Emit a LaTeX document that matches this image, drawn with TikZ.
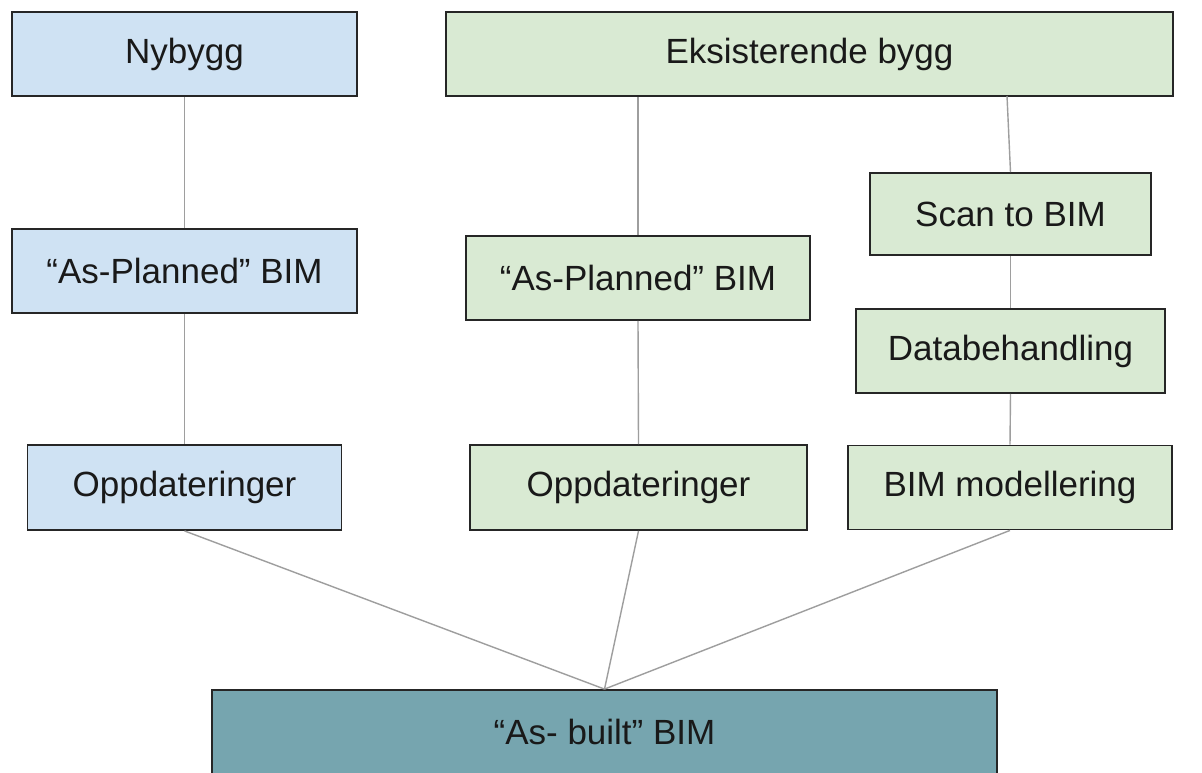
\documentclass[tikz,border=0pt]{standalone}
\usepackage{fontspec}
\setmainfont{Liberation Sans}
\definecolor{bluefill}{HTML}{CFE2F3}
\definecolor{greenfill}{HTML}{D9EAD3}
\definecolor{tealfill}{HTML}{76A5AF}
\definecolor{boxline}{HTML}{262626}
\definecolor{linkline}{HTML}{9E9E9E}
\tikzset{
  box/.style={draw=boxline, line width=1.8pt, inner sep=0pt, font=\fontsize{35}{42}\selectfont, text=black!90},
  bluebox/.style={box, fill=bluefill},
  greenbox/.style={box, fill=greenfill},
  tealbox/.style={box, fill=tealfill},
  link/.style={draw=linkline, line width=1.4pt}
}
\begin{document}
\begin{tikzpicture}[x=1pt,y=-1pt]
\useasboundingbox (0,0) rectangle (1202,772);
\clip (0,0) rectangle (1202,772);
\fill[white] (0,0) rectangle (1202,772);
% nodes
\node[bluebox, minimum width=345pt, minimum height=84pt] (ny) at (184.5,54) {Nybygg};
\node[greenbox, minimum width=727pt, minimum height=84pt] (ek) at (809.5,54) {Eksisterende bygg};
\node[bluebox, minimum width=345pt, minimum height=84pt] (ap1) at (184.5,271) {``As-Planned'' BIM};
\node[greenbox, minimum width=344pt, minimum height=84pt] (ap2) at (638,278) {``As-Planned'' BIM};
\node[greenbox, minimum width=281pt, minimum height=82pt] (scan) at (1010.5,214) {Scan to BIM};
\node[greenbox, minimum width=309pt, minimum height=84pt] (data) at (1010.5,351) {Databehandling};
\node[bluebox, minimum width=314pt, minimum height=85pt] (op1) at (184.5,487.5) {Oppdateringer};
\node[greenbox, minimum width=337pt, minimum height=85pt] (op2) at (638.5,487.5) {Oppdateringer};
\node[greenbox, minimum width=324pt, minimum height=84pt] (bim) at (1010,487.5) {BIM modellering};
\node[tealbox, minimum width=785pt, minimum height=84pt] (ab) at (604.5,732) {``As- built'' BIM};
% connection anchor points
\coordinate (ekA) at (ap2.north |- ek.south);
\coordinate (ekB) at (1007,96);
% links
\draw[link] (ny.south) -- (ap1.north);
\draw[link] (ap1.south) -- (op1.north);
\draw[link] (ekA) -- (ap2.north);
\draw[link] (ap2.south) -- (op2.north);
\draw[link] (ekB) -- (scan.north);
\draw[link] (scan.south) -- (data.north);
\draw[link] (data.south) -- (bim.north);
\draw[link] (op1.south) -- (ab.north);
\draw[link] (op2.south) -- (ab.north);
\draw[link] (bim.south) -- (ab.north);
\end{tikzpicture}
\end{document}
